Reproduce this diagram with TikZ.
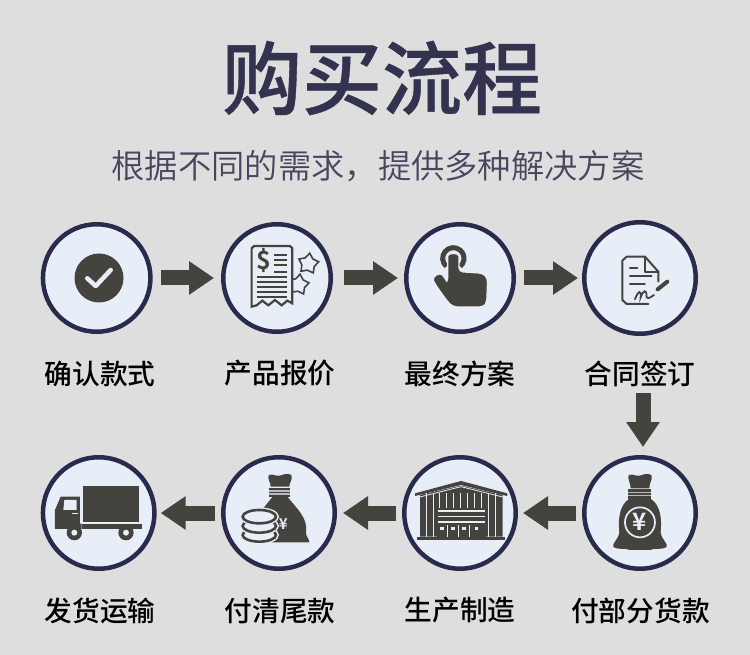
\documentclass[tikz,border=0pt]{standalone}
\usepackage{fontspec}
\usetikzlibrary{arrows.meta,calc,shapes.geometric}
\setmainfont{Noto Sans CJK SC}
\newfontfamily\labelfont{Noto Sans CJK SC Medium}
\newfontfamily\boldfont{Noto Sans CJK SC Bold}
\newfontfamily\titlefont[FakeBold=0.5]{Noto Sans CJK SC Medium}
\newfontfamily\subfont{Noto Sans CJK SC DemiLight}
\definecolor{bgc}{HTML}{DEDEDE}
\definecolor{ringc}{HTML}{2A2A4C}
\definecolor{fillc}{HTML}{E8EEF7}
\definecolor{iconc}{HTML}{45433D}
\definecolor{titlec}{HTML}{33334F}
\definecolor{subc}{HTML}{46465E}
\tikzset{
  stepcircle/.style={circle,draw=ringc,fill=fillc,line width=4.5pt,inner sep=0pt,minimum size=#1},
  steplabel/.style={font=\labelfont\fontsize{27.7pt}{28pt}\selectfont,text=black,inner sep=0pt,anchor=center},
  blockarrow/.style={draw=iconc,line width=15pt,-{Triangle[length=25pt,width=32pt,fill=iconc]}},
  dkline/.style={draw=iconc,line width=2pt,line cap=round,line join=round},
  zoomscope/.style={shift={(#1)},x=0.3333pt,y=-0.3333pt},
  starmark/.style={star,star points=5,star point ratio=1.6,draw=iconc,line width=1.6pt,minimum size=21pt,inner sep=0pt,rotate=-8}
}
\begin{document}
\begin{tikzpicture}[x=1pt,y=-1pt]
\fill[bgc] (0,0) rectangle (750,655);
\useasboundingbox (0,0) rectangle (750,655);
\node[inner sep=0pt,text=titlec,font=\titlefont\fontsize{80pt}{80pt}\selectfont] (title) at (382,78) {购买流程};
\node[inner sep=0pt,text=subc,font=\subfont\fontsize{33.3pt}{34pt}\selectfont] (sub) at (378,166) {根据不同的需求，提供多种解决方案};

\node[stepcircle=107.5pt] (c1) at (96.7,278) {};
\node[stepcircle=107.5pt] (c2) at (277,278) {};
\node[stepcircle=107.5pt] (c3) at (460,278) {};
\node[stepcircle=111.5pt] (c4) at (640,278) {};
\node[stepcircle=111.5pt] (c5) at (98.7,513) {};
\node[stepcircle=111.5pt] (c6) at (279,513) {};
\node[stepcircle=111.5pt] (c7) at (460,513) {};
\node[stepcircle=111.5pt] (c8) at (640,513) {};

\node[steplabel] (l1) at (100,373.5) {确认款式};
\node[steplabel] (l2) at (280,373.5) {产品报价};
\node[steplabel] (l3) at (460,373.5) {最终方案};
\node[steplabel] (l4) at (640,373.5) {合同签订};
\node[steplabel] (l5) at (100,610.5) {发货运输};
\node[steplabel] (l6) at (280,610.5) {付清尾款};
\node[steplabel] (l7) at (460,610.5) {生产制造};
\node[steplabel] (l8) at (640.5,610.5) {付部分货款};

\draw[blockarrow,shorten <=8.3pt,shorten >=7pt] (c1.east) -- (c2.west);
\draw[blockarrow,shorten <=11pt,shorten >=6pt] (c2.east) -- (c3.west);
\draw[blockarrow,shorten <=8pt,shorten >=4pt] (c3.east) -- (c4.west);
\draw[blockarrow,shorten <=57pt,shorten >=8pt] ($(c4.south)+(3,0)$) -- ($(c8.north)+(3,0)$);
\draw[blockarrow,shorten <=6pt,shorten >=5pt] (c8.west) -- (c7.east);
\draw[blockarrow,shorten <=6pt,shorten >=6pt] (c7.west) -- (c6.east);
\draw[blockarrow,shorten <=6pt,shorten >=4pt] (c6.west) -- (c5.east);

% icon 1: check
\fill[iconc] (99,278) circle (24.5);
\draw[draw=fillc,line width=4.5pt,line cap=round,line join=round] (87.3,278.3) -- (95.7,286) -- (110.7,270);

% icon 2: receipt
\begin{scope}[zoomscope={30,210}]
  \node[starmark] (st1) at (835,161) {};
  \node[starmark] (st2) at (806,224) {};
  \fill[fillc] (740,110) rectangle (790,295);
  \draw[dkline,line join=miter,line width=2.2pt,fill=fillc] (665,290) -- (665,115) -- (672,108) -- (780,108) -- (787,115) -- (787,280) -- (772,272) -- (755,286) -- (735,270) -- (715,286) -- (697,272) -- (680,286) -- cycle;
  \node[inner sep=0pt,text=iconc,font=\boldfont\fontsize{25pt}{25pt}\selectfont] (dollar) at (702,152) {\$};
  \foreach \yy in {135,150,165,185} \draw[draw=iconc,line width=2pt] (733,\yy) -- (772,\yy);
  \foreach \yy in {200,215,230,245,260} \draw[draw=iconc,line width=2pt] (680,\yy) -- (772,\yy);
\end{scope}

% icon 3: hand
\begin{scope}[zoomscope={390,210}]
  \draw[draw=iconc,line width=5pt] (190,145) ++(130:32) arc[start angle=130,end angle=410,radius=32];
  \path[fill=iconc,draw=fillc,line width=1.2pt,rounded corners=4pt]
    (173,150) .. controls (173,128) and (207,128) .. (207,150)
    -- (207,185) -- (280,190) -- (293,205) -- (290,280) -- (280,291) -- (190,291) -- (175,278)
    -- (135,222) .. controls (125,200) and (150,185) .. (165,205) -- (173,218) -- cycle;
\end{scope}

% icon 4: document
\begin{scope}[zoomscope={390,210}]
  \draw[dkline] (775,282) -- (710,282) -- (697,270) -- (697,152) -- (710,140) -- (765,140) -- (805,185) -- (805,215);
  \draw[dkline] (765,140) -- (765,185) -- (805,185);
  \draw[dkline] (720,175) -- (742,175) (720,198) -- (785,198) (720,222) -- (765,222);
  \draw[draw=iconc,line width=1.8pt,line cap=round] (735,268) .. controls (745,240) and (755,240) .. (752,262) .. controls (760,240) and (770,235) .. (770,262) .. controls (775,268) and (785,260) .. (792,255);
  \draw[draw=iconc,line width=4pt,line cap=round] (803,238) -- (832,215);
\end{scope}

% icon 5: truck
\begin{scope}[zoomscope={30,445}]
  \fill[iconc] (158,123) rectangle (328,232);
  \fill[iconc] (155,238) rectangle (336,252);
  \fill[iconc] (75,252) -- (75,195) -- (92,155) -- (150,155) -- (150,236) -- (155,236) -- (155,252) -- cycle;
  \fill[fillc] (103,165) -- (140,165) -- (140,195) -- (100,195) -- cycle;
  \fill[fillc] (125,203) rectangle (143,207);
  \foreach \xx in {133,288} {
    \fill[iconc] (\xx,263) circle (23);
    \fill[fillc] (\xx,263) circle (9);
  }
\end{scope}

% icon 6: money bag and coins
\begin{scope}[zoomscope={30,445}]
  \fill[iconc] (722,125) .. controls (722,110) and (712,105) .. (716,90) .. controls (730,85) and (735,95) .. (750,92) .. controls (765,85) and (780,85) .. (785,92) .. controls (788,105) and (778,112) .. (778,125) -- cycle;
  \fill[iconc] (718,128) rectangle (780,155);
  \fill[fillc!70!iconc] (718,136) rectangle (780,140);
  \fill[fillc!70!iconc] (718,145) rectangle (780,149);
  \fill[iconc] (728,155) -- (772,155) .. controls (800,190) and (835,220) .. (828,262) .. controls (828,275) and (838,282) .. (838,292) -- (725,292) -- (700,190) -- cycle;
  \foreach \yy in {270,243,215} {
    \draw[draw=fillc,line width=3.2pt,fill=fillc] (688,\yy) ellipse (54 and 23);
    \draw[draw=iconc,line width=2.6pt,fill=fillc] (688,\yy) ellipse (50 and 20);
  }
  \node[inner sep=0pt,text=fillc,font=\boldfont\fontsize{15pt}{15pt}\selectfont] (yen1) at (760,238) {¥};
\end{scope}

% icon 7: warehouse
\begin{scope}[zoomscope={390,445}]
  \fill[iconc] (90,150) -- (213,122) -- (338,150) -- (338,275) -- (90,275) -- cycle;
  \fill[iconc] (75,145) -- (213,108) -- (352,145) -- (352,153) -- (213,120) -- (75,153) -- cycle;
  \draw[draw=fillc,line width=0.8pt] (85,157) -- (213,125) -- (342,157);
  \foreach \xx in {110,130,150,170,190,212,232,253,275,295,318} \draw[draw=fillc,line width=1pt] (\xx,145) -- (\xx,275);
  \fill[iconc] (140,188) rectangle (287,275);
  \fill[fillc] (143,195) rectangle (284,200);
  \fill[fillc] (143,213) rectangle (284,217);
  \fill[fillc] (143,229) rectangle (284,233);
  \foreach \xx in {173,205,238} \draw[draw=fillc,line width=1pt] (\xx,240) -- (\xx,275);
  \foreach \xx in {156,189,222,260} \fill[fillc] (\xx-5,245) rectangle (\xx+5,256);
  \fill[iconc] (82,277) -- (345,277) -- (345,284) -- (82,284) -- cycle;
\end{scope}

% icon 8: money bag yen
\begin{scope}[zoomscope={390,445}]
  \fill[iconc] (722,130) .. controls (722,112) and (712,105) .. (716,90) .. controls (730,85) and (735,95) .. (750,92) .. controls (765,85) and (780,85) .. (785,92) .. controls (788,105) and (778,112) .. (778,130) -- cycle;
  \fill[iconc] (715,132) rectangle (782,162);
  \fill[fillc!70!iconc] (715,140) rectangle (782,144);
  \fill[fillc!70!iconc] (715,150) rectangle (782,154);
  \fill[iconc] (720,160) -- (780,160) .. controls (815,180) and (815,230) .. (812,262) .. controls (815,285) and (835,295) .. (830,306) .. controls (815,316) and (795,308) .. (780,315) -- (720,315) .. controls (705,308) and (685,316) .. (670,306) .. controls (665,295) and (685,285) .. (688,262) .. controls (685,230) and (685,180) .. (720,160) -- cycle;
  \draw[draw=fillc,line width=1.7pt] (750,232) circle (45);
  \node[inner sep=0pt,text=fillc,font=\boldfont\fontsize{24pt}{24pt}\selectfont] (yen2) at (750,232) {¥};
\end{scope}
\end{tikzpicture}
\end{document}
